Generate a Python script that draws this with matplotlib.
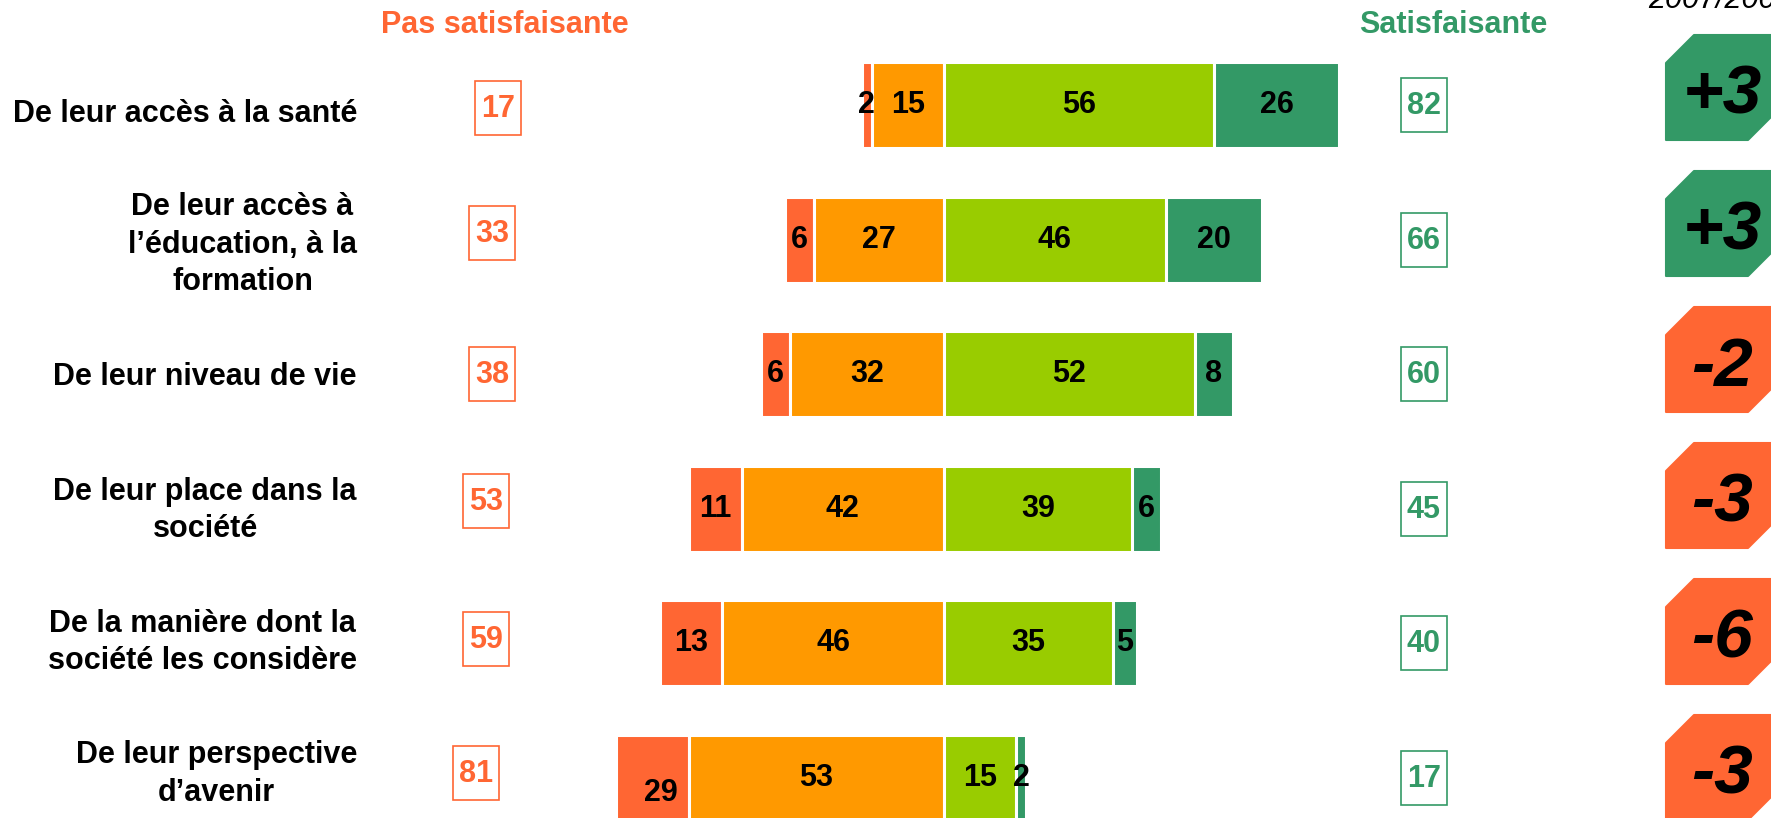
import matplotlib.pyplot as plt
from matplotlib.patches import Rectangle, Polygon

plt.rcParams['font.family'] = ['Liberation Sans', 'DejaVu Sans']

# -------------------------------
# Données
# -------------------------------
categories = [
    "De leur accès à la santé",
    "De leur accès à\nl’éducation, à la\nformation",
    "De leur niveau de vie",
    "De leur place dans la\nsociété",
    "De la manière dont la\nsociété les considère",
    "De leur perspective\nd’avenir",
]
pas_du_tout = [2, 6, 6, 11, 13, 29]
pas_du_tout_trace = [2, 6, 6, 11, 13, 15]  # le segment "29" est dessiné court dans l'original
plutot_pas = [15, 27, 32, 42, 46, 53]
plutot = [56, 46, 52, 39, 35, 15]
tres = [26, 20, 8, 6, 5, 2]
total_pas_satisf = [17, 33, 38, 53, 59, 81]
total_satisf = [82, 66, 60, 45, 40, 17]
evolution = [3, 3, -2, -3, -6, -3]

ROUGE = '#FF6633'
ORANGE = '#FF9900'
VERT_CLAIR = '#99CC00'
VERT = '#339966'

# -------------------------------
# Mise en page (pixels)
# -------------------------------
W, H = 1771, 818
X0 = 944          # position du zéro
PX_UNIT = 4.82    # pixels par point de %
ROW0 = 105
ROW_STEP = 134.6

fig = plt.figure(figsize=(W / 100, H / 100), dpi=100)
ax = fig.add_axes([0, 0, 1, 1])
ax.set_xlim(-X0 / PX_UNIT, (W - X0) / PX_UNIT)
ax.set_ylim((H - ROW0) / ROW_STEP, -ROW0 / ROW_STEP)
ax.axis('off')

y = list(range(len(categories)))
h = 86 / ROW_STEP
kw = dict(height=h, edgecolor='white', linewidth=2.2)

left_red = [-(a + b) for a, b in zip(plutot_pas, pas_du_tout_trace)]
ax.barh(y, pas_du_tout_trace, left=left_red, color=ROUGE, **kw)
ax.barh(y, plutot_pas, left=[-v for v in plutot_pas], color=ORANGE, **kw)
ax.barh(y, plutot, left=0, color=VERT_CLAIR, **kw)
ax.barh(y, tres, left=plutot, color=VERT, **kw)

lab = dict(ha='center', va='center', fontsize=22, fontweight='bold', color='black')
for i in y:
    xr = left_red[i] + pas_du_tout_trace[i] / 2
    dy = 0.11 if i == 5 else 0
    dx = 1.8 if i == 5 else 0
    ax.text(xr + dx, i + dy, str(pas_du_tout[i]), **lab)
    ax.text(-plutot_pas[i] / 2, i, str(plutot_pas[i]), **lab)
    ax.text(plutot[i] / 2, i, str(plutot[i]), **lab)
    ax.text(plutot[i] + tres[i] / 2, i, str(tres[i]), **lab)

# calque en pixels pour les annotations
ov = fig.add_axes([0, 0, 1, 1])
ov.set_xlim(0, W)
ov.set_ylim(H, 0)
ov.axis('off')
ov.patch.set_alpha(0)

ov.text(505, 25, "Pas satisfaisante", ha='center', va='center',
        fontsize=22, fontweight='bold', color=ROUGE)
ov.text(1453, 25, "Satisfaisante", ha='center', va='center',
        fontsize=22, fontweight='bold', color=VERT)
ov.text(1648, 8, "2007/2008", ha='left', va='baseline',
        fontsize=22, fontstyle='italic', color='black')

box_left_x = [498, 492, 492, 486, 486, 476]
box_left_dy = [3, -7, 0, -8, -4, -5]
label_dy = [9, 5, 3, 2, -1, -4]

for i in y:
    yc = ROW0 + i * ROW_STEP
    ov.text(357, yc + label_dy[i], categories[i], ha='right', va='center',
            multialignment='center', fontsize=22, fontweight='bold',
            linespacing=1.32)

    # total pas satisfaisant
    bx, by = box_left_x[i], yc + box_left_dy[i]
    ov.add_patch(Rectangle((bx - 23, by - 27), 46, 54, fill=False,
                           edgecolor=ROUGE, linewidth=1.2))
    ov.text(bx, by + 1, str(total_pas_satisf[i]), ha='center', va='center',
            fontsize=22, fontweight='bold', color=ROUGE)

    # total satisfaisant
    sx, sy = 1424, yc
    ov.add_patch(Rectangle((sx - 23, sy - 27), 46, 54, fill=False,
                           edgecolor=VERT, linewidth=1.2))
    ov.text(sx, sy + 1, str(total_satisf[i]), ha='center', va='center',
            fontsize=22, fontweight='bold', color=VERT)

    # évolution
    top = 35 + i * 136
    x0, x1, y0, y1, c = 1666, 1776, top, top + 105, 28
    col = VERT if evolution[i] > 0 else ROUGE
    ov.add_patch(Polygon([(x0 + c, y0), (x1, y0), (x1, y1 - c), (x1 - c, y1),
                          (x0, y1), (x0, y0 + c)], closed=True,
                         facecolor=col, edgecolor=col, linewidth=1.5,
                         joinstyle='round'))
    ov.text(1722, top + 54, f"{evolution[i]:+d}", ha='center', va='center_baseline',
            fontsize=50, fontweight='bold', fontstyle='italic', color='black')

fig.savefig("out.png", dpi=100)
